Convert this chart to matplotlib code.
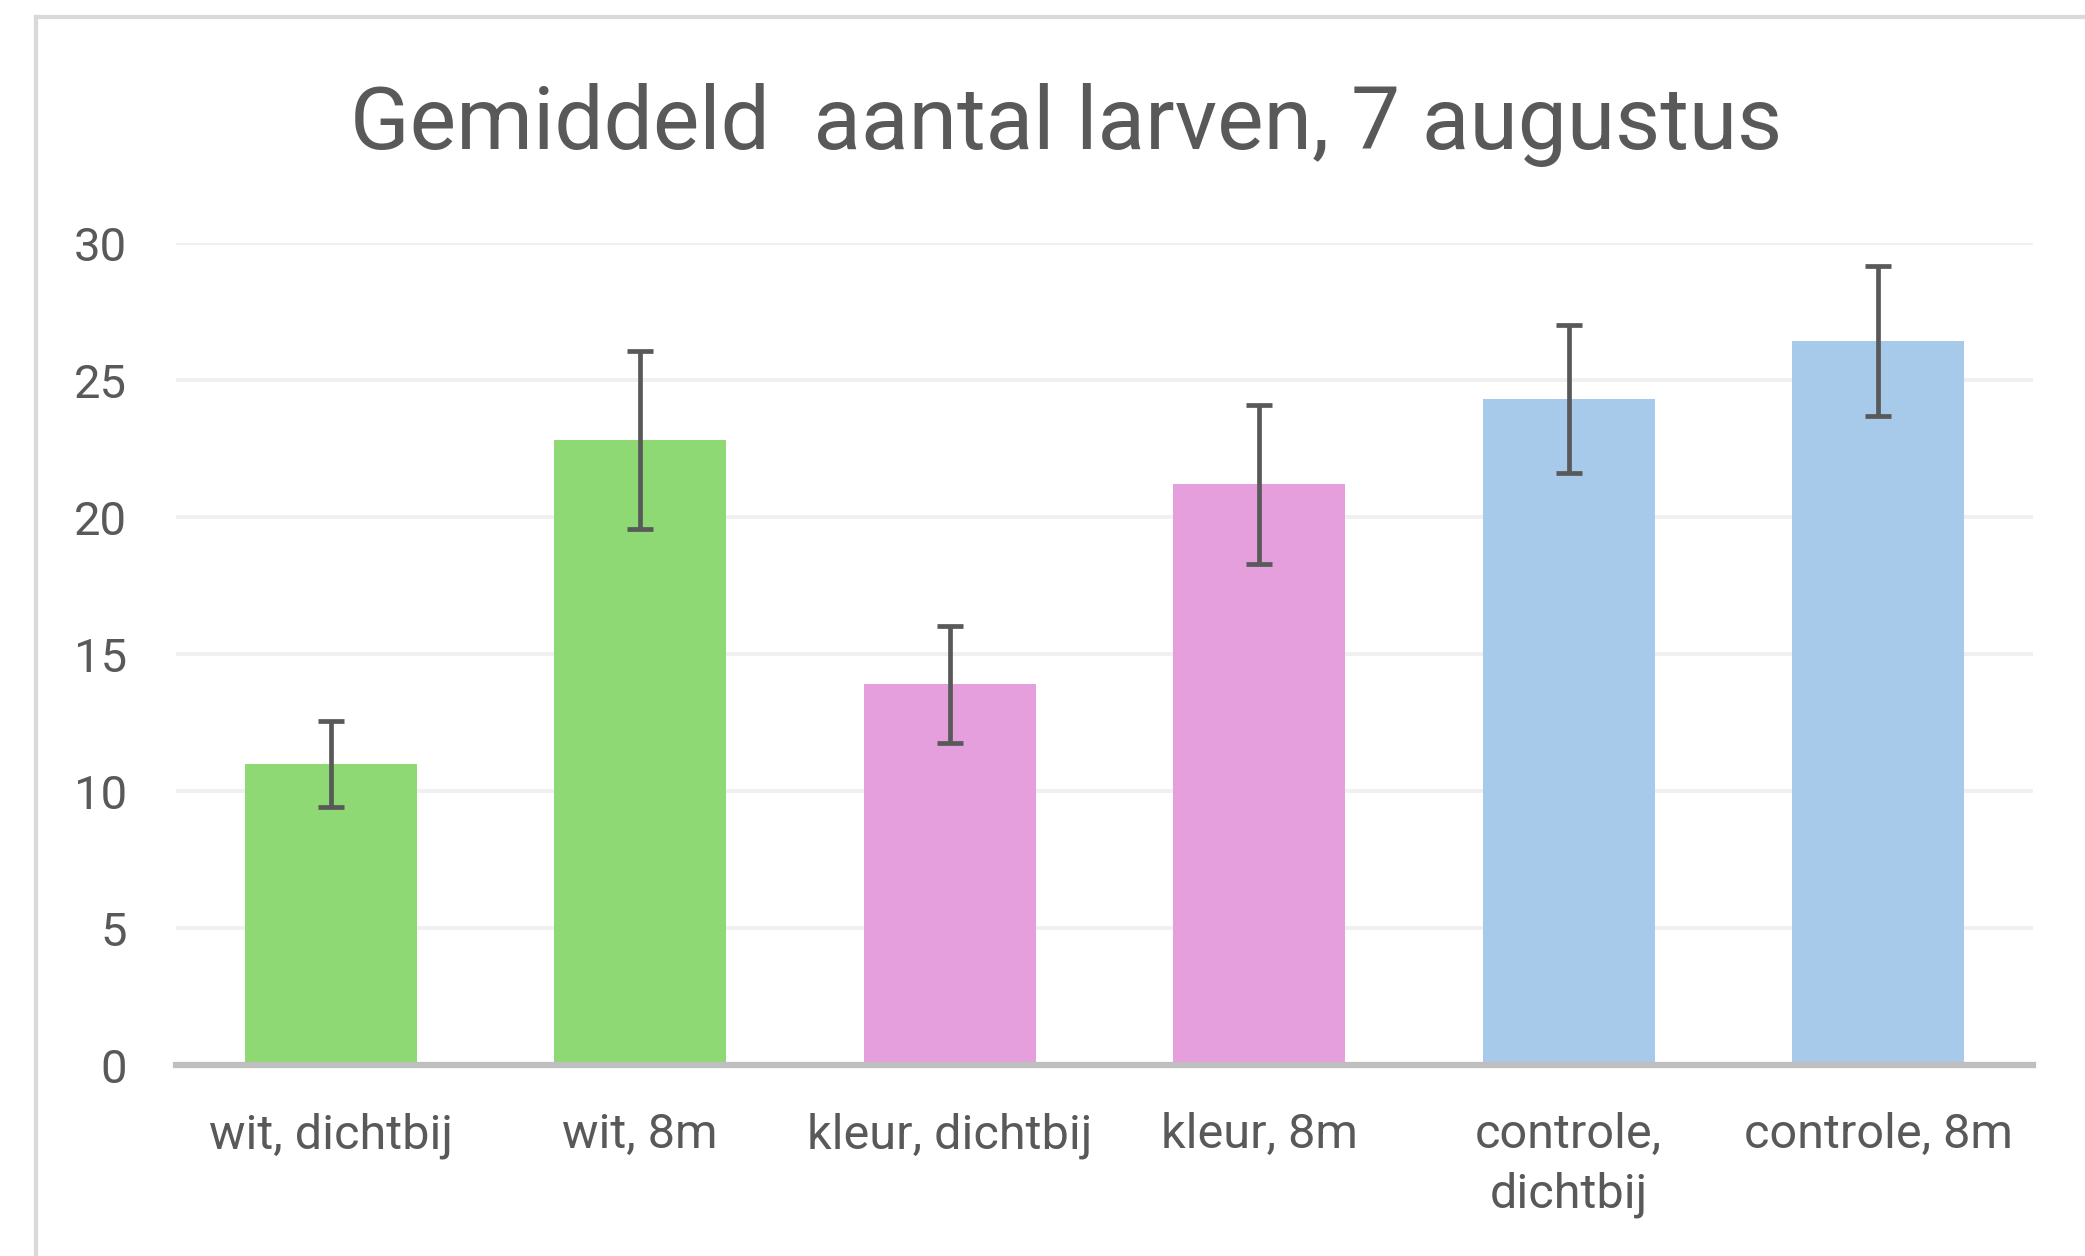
import matplotlib
matplotlib.use("Agg")
import matplotlib.pyplot as plt
from matplotlib.lines import Line2D

plt.rcParams['font.family'] = ['Roboto', 'DejaVu Sans']

# gegevens
categorieen = ["wit, dichtbij", "wit, 8m", "kleur, dichtbij", "kleur, 8m",
               "controle,\ndichtbij", "controle, 8m"]
gemiddelde = [10.99, 22.81, 13.89, 21.19, 24.31, 26.42]
fout = [1.56, 3.26, 2.15, 2.90, 2.71, 2.73]
kleuren = ["#8FD975", "#8FD975", "#E49FDC", "#E49FDC", "#A7C9EA", "#A7C9EA"]
y_ticks = [0, 5, 10, 15, 20, 25, 30]

tekst = "#595959"

fig = plt.figure(figsize=(20.85, 12.56), dpi=100)
ax = fig.add_axes([0.0844, 0.152, 0.8907, 0.6545])

x = list(range(len(categorieen)))
ax.bar(x, gemiddelde, width=0.556, color=kleuren, zorder=2)
ax.errorbar(x, gemiddelde, yerr=fout, fmt="none", ecolor="#595959",
            elinewidth=3.4, capsize=9.5, capthick=3.4, zorder=3)

ax.set_xlim(-0.5, 5.5)
ax.set_ylim(0, 30)
ax.set_yticks(y_ticks)
ax.set_xticks(x)
ax.set_xticklabels(categorieen, linespacing=1.36)
ax.tick_params(axis="y", length=0, pad=35, labelsize=34, labelcolor=tekst)
ax.tick_params(axis="x", length=0, pad=34, labelsize=35, labelcolor=tekst)

ax.grid(axis="y", color="#F0F0F0", linewidth=2.8, zorder=0)
ax.set_axisbelow(True)
for kant in ["top", "right", "left"]:
    ax.spines[kant].set_visible(False)
ax.spines["bottom"].set_color("#BFBFBF")
ax.spines["bottom"].set_linewidth(4.5)
ax.spines["bottom"].set_zorder(4)

# rand van het grafiekgebied (rechts en onder afgesneden)
fig.add_artist(Line2D([36 / 2085, 36 / 2085], [0, 1 - 16.5 / 1256],
                      transform=fig.transFigure, color="#D9D9D9", linewidth=3))
fig.add_artist(Line2D([36 / 2085, 1], [1 - 16.5 / 1256, 1 - 16.5 / 1256],
                      transform=fig.transFigure, color="#D9D9D9", linewidth=3))

fig.text(0.5113, 1 - 149 / 1256, "Gemiddeld  aantal larven, 7 augustus",
         ha="center", va="baseline", fontsize=63, color=tekst)

fig.savefig("out.png", dpi=100)
